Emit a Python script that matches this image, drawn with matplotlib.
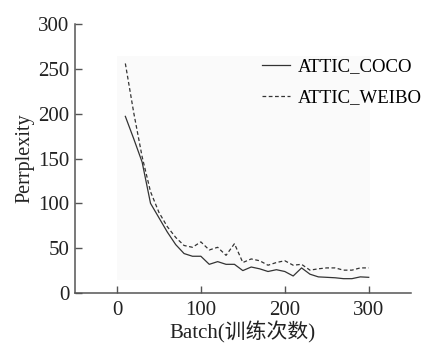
import matplotlib.pyplot as plt
from matplotlib.patches import Rectangle

batch = list(range(10, 301, 10))
coco = [197, 172, 146, 100, 84, 68, 54, 44, 41, 41,
        32, 35, 32, 32, 25, 29, 27, 24, 26, 24,
        19, 28, 21, 18, 17.5, 17, 16, 16, 18, 17.5]
weibo = [256, 201, 152, 113, 90, 74, 62, 53, 51, 57,
         48, 51, 42, 55, 34, 38, 36, 31, 34, 36,
         31, 32, 25.5, 27, 28, 28, 25.5, 25.5, 28, 28]

plt.rcParams['font.family'] = ['Liberation Serif', 'Noto Sans CJK SC']

fig = plt.figure(figsize=(4.32, 3.48), dpi=100)
ax = fig.add_axes([0.1736, 0.158, 0.777, 0.773])

# very light background behind the data
ax.add_patch(Rectangle((0, 14), 302, 250, color='#fafafa', zorder=0, lw=0))

ax.plot(batch, coco, color='#333333', lw=0.9, label='ATTIC_COCO')
ax.plot(batch, weibo, color='#333333', lw=0.9, ls=(0, (3, 2)), label='ATTIC_WEIBO')

ax.set_xlim(-50, 350)
ax.set_ylim(0, 300)
ax.set_xticks([0, 100, 200, 300])
ax.set_yticks(range(0, 301, 50))
for s in ['top', 'right']:
    ax.spines[s].set_visible(False)
for s in ['left', 'bottom']:
    ax.spines[s].set_color('#555555')
    ax.spines[s].set_linewidth(1.1)
ax.tick_params(direction='in', length=5, width=1, colors='#555555',
               labelcolor='#222222', labelsize=15, pad=4)
ax.tick_params(axis='x', pad=6)

ax.set_xlabel('Batch(训练次数)', fontsize=15, color='#222222', labelpad=1)
ax.set_ylabel('Perrplexity', fontsize=14.5, color='#222222', labelpad=3)

leg = ax.legend(loc='upper left', bbox_to_anchor=(262 / 432, 1 - 58 / 348),
                bbox_transform=fig.transFigure, frameon=False, borderpad=0,
                borderaxespad=0, fontsize=13.5, handlelength=1.5,
                handletextpad=0.4, labelspacing=0.75)

plt.savefig('out.png', dpi=100)
